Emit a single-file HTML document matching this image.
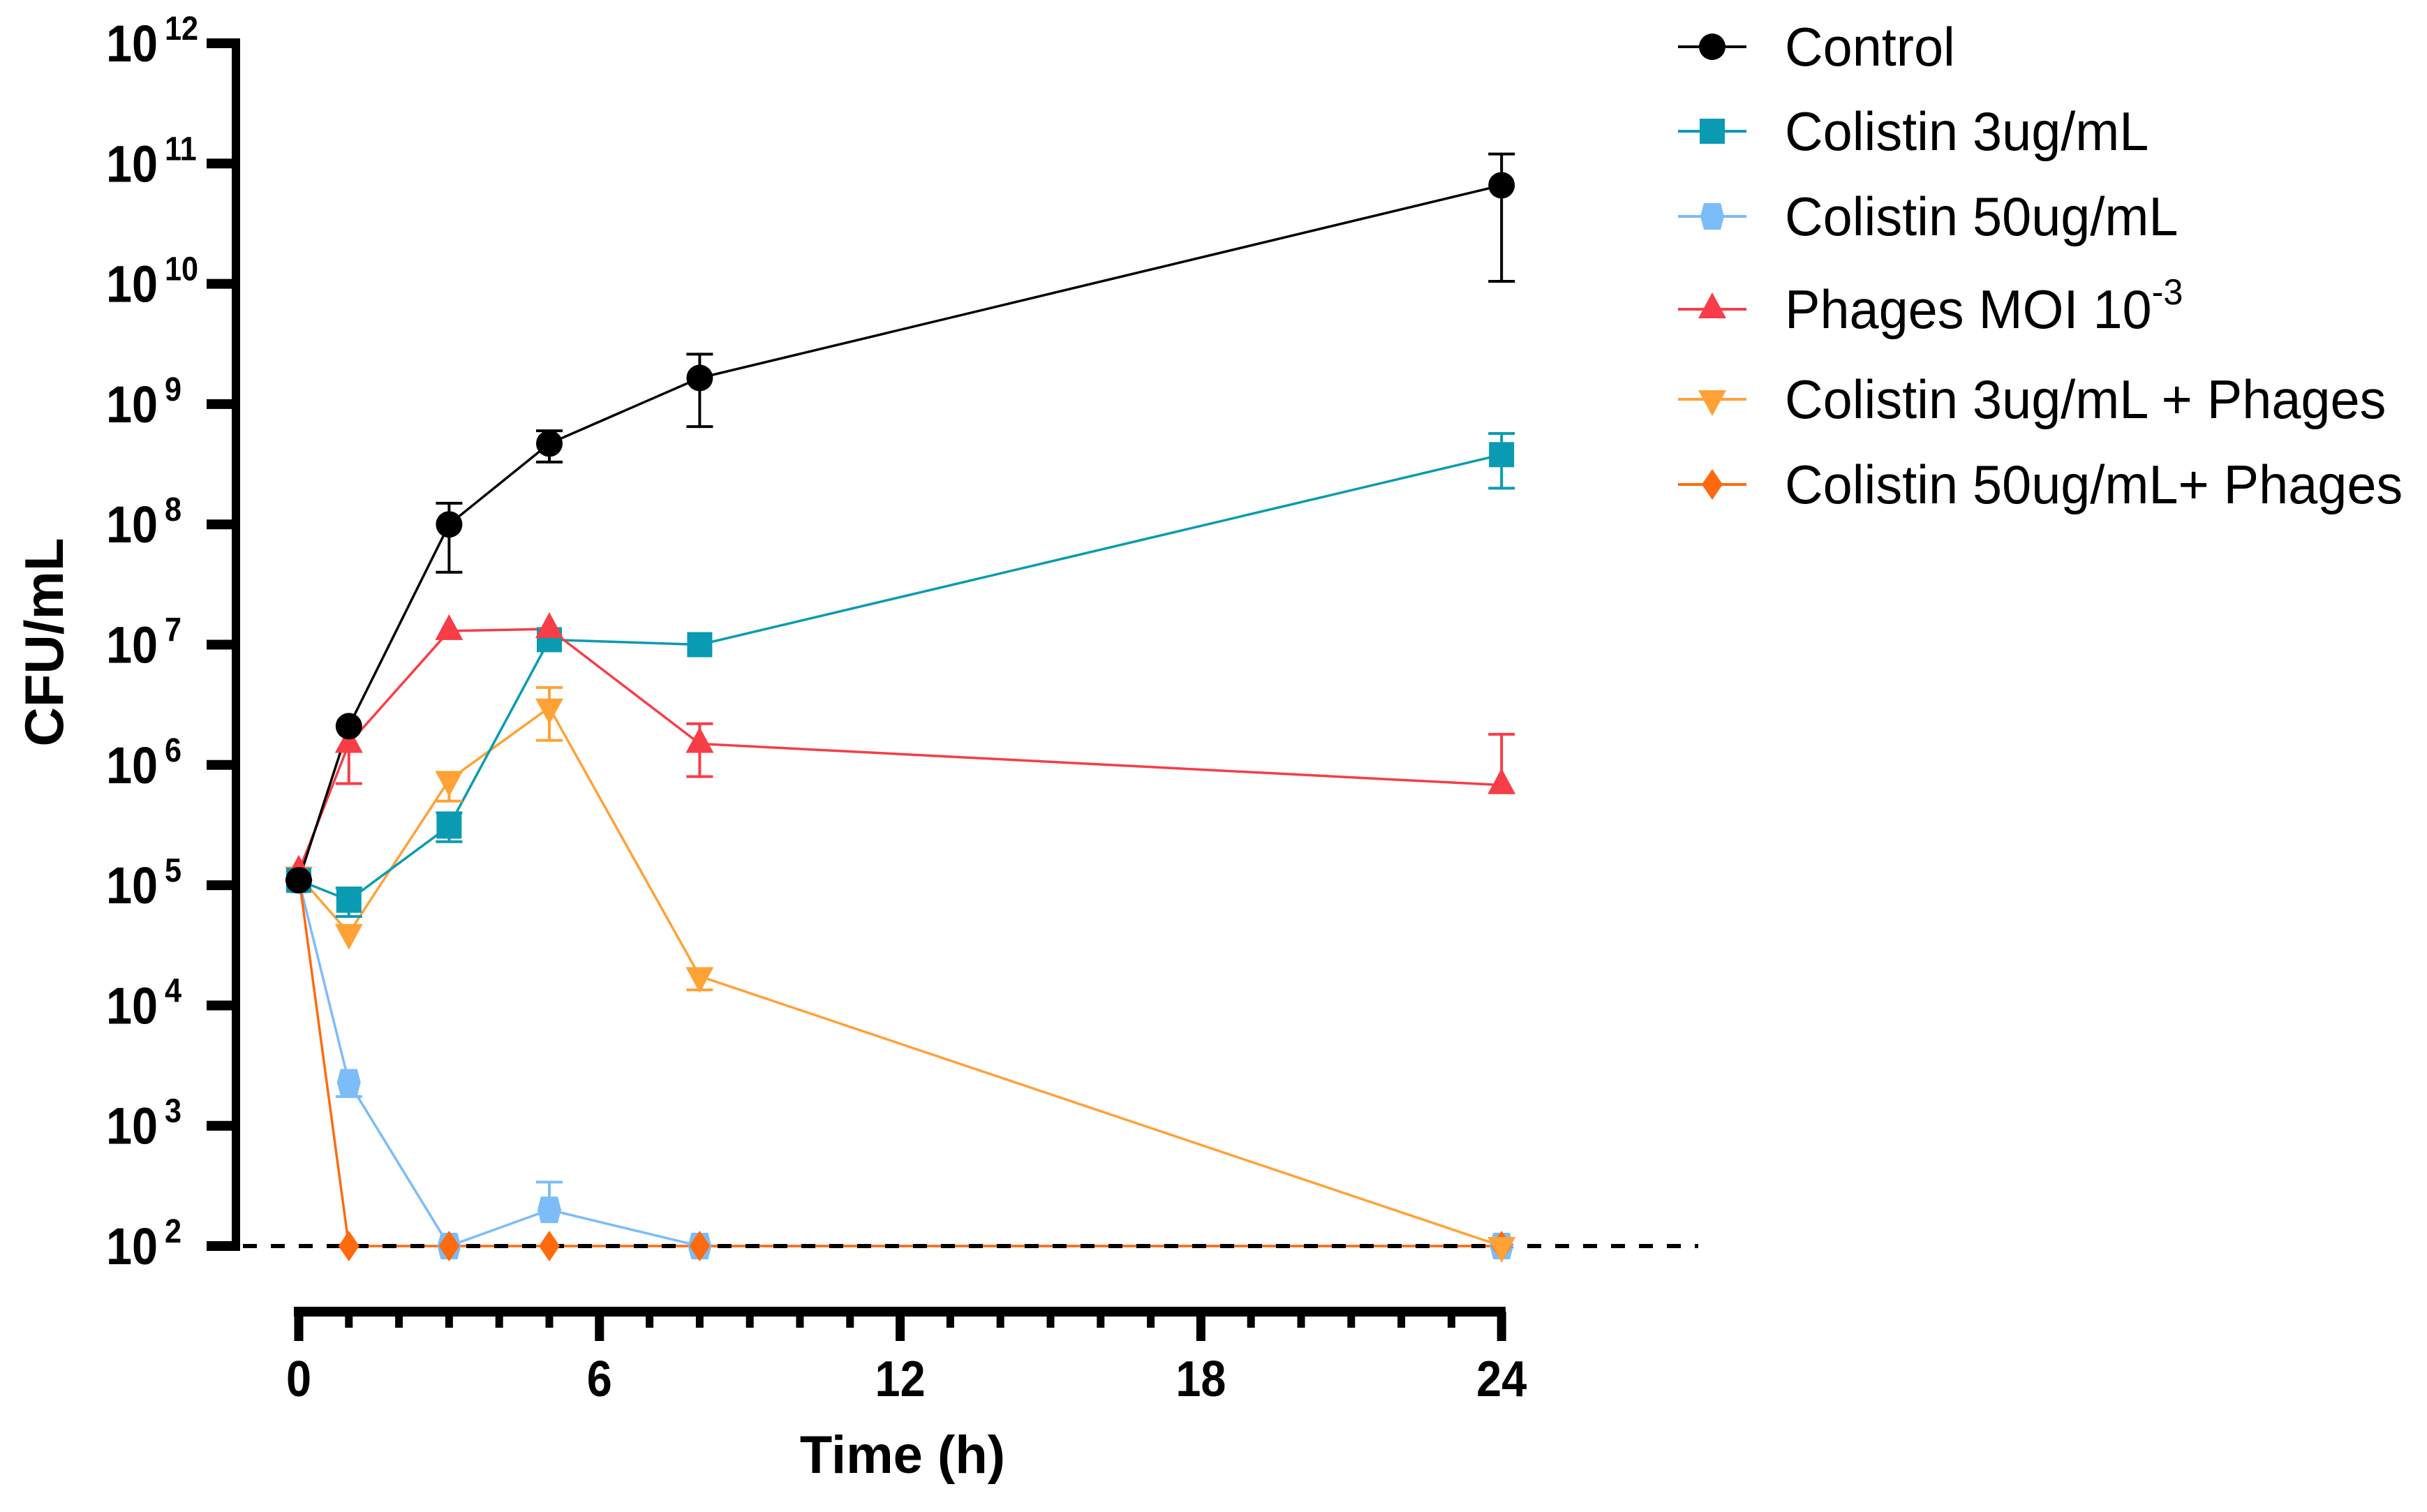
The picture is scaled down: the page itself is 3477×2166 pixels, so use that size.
<!DOCTYPE html>
<html><head><meta charset="utf-8"><style>
html,body{margin:0;padding:0;background:#fff}
svg{display:block}
text{font-family:"Liberation Sans",Arial,sans-serif}
</style></head><body>
<svg id="chart" width="3477" height="2166" viewBox="0 0 3477 2166" xmlns="http://www.w3.org/2000/svg">
<g id="axes"></g>
<g id="series"></g>
<g id="overlay"></g>
<g id="legend"></g>
<text x="0" y="0" transform="translate(90,920) rotate(-90)" text-anchor="middle" font-weight="bold" font-size="78">CFU/mL</text>
<text x="1293" y="2110" text-anchor="middle" font-weight="bold" font-size="76">Time (h)</text>
</svg>
<script>
const times = [0, 1, 3, 5, 8, 24];
const seriesNames = ["Control", "Colistin 3ug/mL", "Colistin 50ug/mL", "Phages MOI 10-3", "Colistin 3ug/mL + Phages", "Colistin 50ug/mL+ Phages"];
const control = [1.1e5, 2.1e6, 1.0e8, 4.7e8, 1.65e9, 6.6e10];
const controlHi = [null, null, 1.5e8, 6.0e8, 2.6e9, 1.2e11];
const controlLo = [null, null, 4.0e7, 3.3e8, 6.5e8, 1.05e10];
const col3 = [1.1e5, 7.5e4, 3.1e5, 1.1e7, 1.0e7, 3.8e8];
const col3Hi = [null, 9.5e4, 4.0e5, null, null, 5.7e8];
const col3Lo = [null, 5.5e4, 2.3e5, null, null, 2.0e8];
const col50 = [1.1e5, 2.3e3, 100, 200, 100, 100];
const col50Hi = [null, null, null, 340, null, null];
const col50Lo = [null, 1.75e3, null, null, null, null];
const phages = [1.3e5, 1.5e6, 1.3e7, 1.35e7, 1.5e6, 6.8e5];
const phagesHi = [null, null, null, null, 2.2e6, 1.8e6];
const phagesLo = [null, 7.0e5, null, null, 8.0e5, null];
const col3ph = [1.2e5, 4.0e4, 7.5e5, 3.0e6, 1.75e4, 100];
const col3phHi = [null, null, null, 4.4e6, null, null];
const col3phLo = [null, null, 5.0e5, 1.6e6, 1.35e4, null];
const col50ph = [1.2e5, 100, 100, 100, 100, 100];
const xTicks = [0, 6, 12, 18, 24];
const yExps = [2, 3, 4, 5, 6, 7, 8, 9, 10, 11, 12];

const NS = "http://www.w3.org/2000/svg";
function X(t){ return 428 + t * 71.8; }
function Y(v){ return 1785 - (Math.log10(v) - 2) * 172.3; }
function mk(tag, attrs, parent){ const e=document.createElementNS(NS,tag); for(const k in attrs) e.setAttribute(k,attrs[k]); parent.appendChild(e); return e; }

const axes=document.getElementById('axes');
let yl = mk('line',{x1:338,y1:Y(1e12)-7,x2:338,y2:Y(100)+7,stroke:'#000','stroke-width':12},axes);


yExps.forEach(e=>{
  const y=Y(Math.pow(10,e));
  const t=mk('line',{x1:296,y1:y,x2:344,y2:y,stroke:'#000','stroke-width':14},axes);
  
  
  const lab=mk('text',{x:0,y:0,transform:`translate(226,${y+26}) scale(0.9,1)`,'text-anchor':'end','font-weight':'bold','font-size':74},axes);
  lab.textContent='10';
  
  
  const sup=mk('text',{x:0,y:0,transform:`translate(236,${y-5}) scale(0.9,1)`,'text-anchor':'start','font-weight':'bold','font-size':48},axes);
  sup.textContent=String(e);
  
  
});
const xl=mk('line',{x1:421,y1:1879,x2:2157,y2:1879,stroke:'#000','stroke-width':14},axes);


for(let h=0;h<=24;h++){
  const major = xTicks.indexOf(h)>=0;
  const t=mk('line',{x1:X(h),y1:1879,x2:X(h),y2:major?1921:1902,stroke:'#000','stroke-width':major?13:11},axes);
  
  
}
xTicks.forEach(h=>{
  const lab=mk('text',{x:0,y:0,transform:`translate(${X(h)},2000) scale(0.9,1)`,'text-anchor':'middle','font-weight':'bold','font-size':72},axes);
  lab.textContent=String(h);
  
  
});

function marker(shape,x,y,color,parent){
  let e;
  if(shape==='circle') e=mk('circle',{cx:x,cy:y,r:19,fill:color},parent);
  else if(shape==='square') e=mk('rect',{x:x-18,y:y-18,width:36,height:36,fill:color},parent);
  else if(shape==='hex') e=mk('polygon',{points:`${x-12},${y-19} ${x+12},${y-19} ${x+17},${y} ${x+12},${y+19} ${x-12},${y+19} ${x-17},${y}`,fill:color},parent);
  else if(shape==='up') e=mk('polygon',{points:`${x},${y-24} ${x+20},${y+13} ${x-20},${y+13}`,fill:color},parent);
  else if(shape==='down') e=mk('polygon',{points:`${x},${y+24} ${x+20},${y-13} ${x-20},${y-13}`,fill:color},parent);
  else e=mk('polygon',{points:`${x},${y-22} ${x+15},${y} ${x},${y+22} ${x-15},${y}`,fill:color},parent);
  return e;
}

const cfg=[
 {key:'control',vals:control,hi:controlHi,lo:controlLo,color:'#000000',shape:'circle'},
 {key:'colistin-3',vals:col3,hi:col3Hi,lo:col3Lo,color:'#0a9bb2',shape:'square'},
 {key:'colistin-50',vals:col50,hi:col50Hi,lo:col50Lo,color:'#7cbcf8',shape:'hex'},
 {key:'phages',vals:phages,hi:phagesHi,lo:phagesLo,color:'#f73d47',shape:'up'},
 {key:'colistin-3-phages',vals:col3ph,hi:col3phHi,lo:col3phLo,color:'#ffa236',shape:'down'},
 {key:'colistin-50-phages',vals:col50ph,hi:null,lo:null,color:'#ff6a0e',shape:'diamond'}
];
const order=[2,5,4,1,3,0];
const sg=document.getElementById('series');
const markerGroups=[];
order.forEach(i=>{
  const s=cfg[i];
  const g=mk('g',{},sg);
  
  
  const pts=times.map((t,j)=>X(t)+','+Y(s.vals[j])).join(' ');
  const pl=mk('polyline',{points:pts,fill:'none',stroke:s.color,'stroke-width':3.5},g);
  
  
  markerGroups.push([s,g]);
});
// dashed detection limit between lines and markers
const dl=mk('line',{x1:348,y1:Y(100),x2:2433,y2:Y(100),stroke:'#000','stroke-width':6,'stroke-dasharray':'20 20'},sg);


markerGroups.forEach(([s,g0])=>{
  const g=mk('g',{},sg);
  
  
  times.forEach((t,j)=>{
    const x=X(t), y=Y(s.vals[j]);
    [s.hi,s.lo].forEach(arr=>{
      if(arr && arr[j]!=null){
        const ye=Y(arr[j]);
        const eb=mk('path',{d:`M${x},${y}V${ye}M${x-19},${ye}H${x+19}`,stroke:s.color,'stroke-width':4,fill:'none'},g);
        
        
      }
    });
    const m=marker(s.shape,x,y,s.color,g);
    
    
  });
});

const lg=document.getElementById('legend');
const rowsY=[67,188,310,443,572,694];
cfg.forEach((s,i)=>{
  const y=rowsY[i];
  const g=mk('g',{},lg);
  
  
  mk('line',{x1:2404,y1:y,x2:2502,y2:y,stroke:s.color,'stroke-width':4},g);
  marker(s.shape,2453,y,s.color,g);
  const t=mk('text',{x:0,y:0,transform:`translate(2557,${y+27}) scale(0.97,1)`,'font-size':78},g);
  if(i===3){ t.textContent='Phages MOI 10'; const ts=mk('tspan',{dy:-34,'font-size':52},t); ts.textContent='-3'; }
  else t.textContent=seriesNames[i];
});
</script>
</body></html>
